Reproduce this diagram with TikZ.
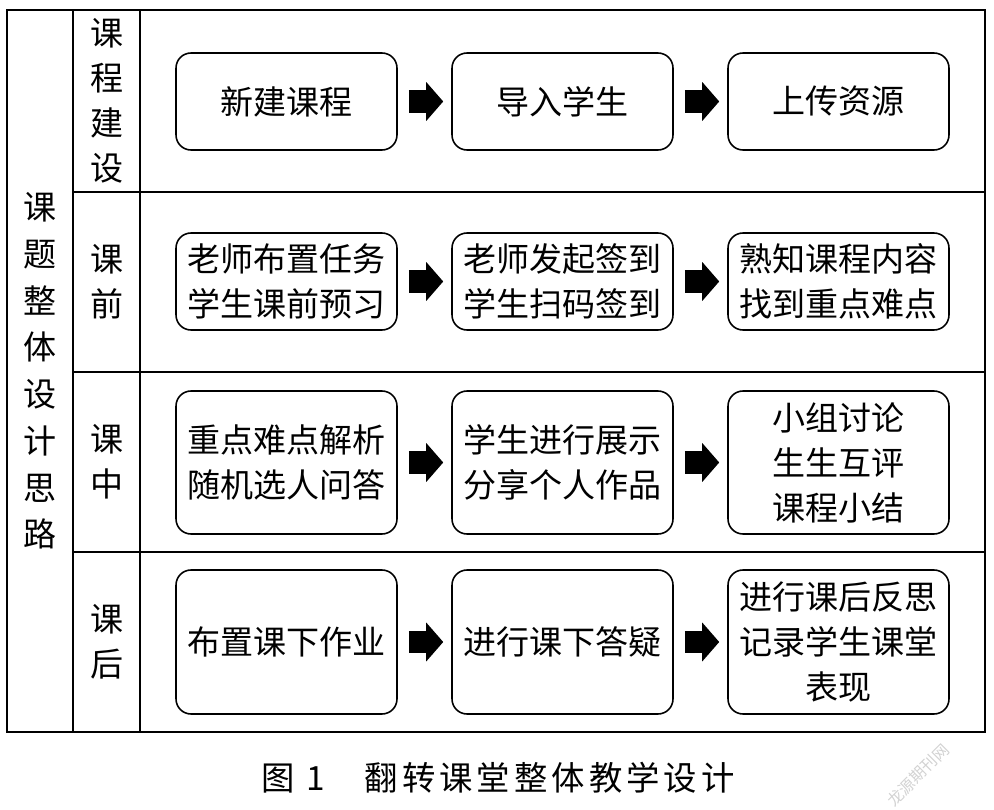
\documentclass[tikz,border=0pt]{standalone}
\usepackage{fontspec}
\setmainfont{Noto Sans CJK SC}
\newfontfamily\capfont[LetterSpace=12]{Noto Sans CJK SC}
\usetikzlibrary{arrows.meta}

\begin{document}
\begin{tikzpicture}[x=0.02cm,y=-0.02cm,
  every node/.style={font=\fontsize{18.8}{25.6}\selectfont},
  stepbox/.style={draw,rounded corners=0.3cm,line width=0.9pt,minimum width=4.42cm,align=center,inner sep=0pt},
  rowlabel/.style={align=center,inner sep=0pt},
  blockarrow/.style={line width=0.46cm,-{Triangle[length=0.34cm,width=0.76cm]},shorten <=0.22cm,shorten >=0.16cm}]
\useasboundingbox (0,0) rectangle (994,810);

% table
\draw[line width=1.2pt] (7,10) rectangle (985,732);
\draw[line width=1.2pt] (73,10) -- (73,732);
\draw[line width=1.2pt] (140,10) -- (140,732);
\draw[line width=1.2pt] (73,192) -- (985,192);
\draw[line width=1.2pt] (73,372) -- (985,372);
\draw[line width=1.2pt] (73,552) -- (985,552);

\node[rowlabel,font=\fontsize{18.8}{26.6}\selectfont] (t) at (40,371) {课\\题\\整\\体\\设\\计\\思\\路};
\node[rowlabel] (r1) at (107,101) {课\\程\\建\\设};
\node[rowlabel] (r2) at (107,282) {课\\前};
\node[rowlabel] (r3) at (107,462) {课\\中};
\node[rowlabel] (r4) at (107,642) {课\\后};

% steps
\node[stepbox,minimum height=1.94cm] (1) at (286.5,101.5) {新建课程};
\node[stepbox,minimum height=1.94cm] (2) at (562.5,101.5) {导入学生};
\node[stepbox,minimum height=1.94cm] (3) at (838.5,101.5) {上传资源};

\node[stepbox,minimum height=1.94cm] (4) at (286.5,281.5) {老师布置任务\\学生课前预习};
\node[stepbox,minimum height=1.94cm] (5) at (562.5,281.5) {老师发起签到\\学生扫码签到};
\node[stepbox,minimum height=1.94cm] (6) at (838.5,281.5) {熟知课程内容\\找到重点难点};

\node[stepbox,minimum height=2.86cm] (7) at (286.5,462.5) {重点难点解析\\随机选人问答};
\node[stepbox,minimum height=2.86cm] (8) at (562.5,462.5) {学生进行展示\\分享个人作品};
\node[stepbox,minimum height=2.86cm] (9) at (838.5,462.5) {小组讨论\\生生互评\\课程小结};

\node[stepbox,minimum height=2.88cm] (10) at (286.5,642) {布置课下作业};
\node[stepbox,minimum height=2.88cm] (11) at (562.5,642) {进行课下答疑};
\node[stepbox,minimum height=2.88cm] (12) at (838.5,642) {进行课后反思\\记录学生课堂\\表现};

\draw[blockarrow] (1) -- (2);
\draw[blockarrow] (2) -- (3);
\draw[blockarrow] (4) -- (5);
\draw[blockarrow] (5) -- (6);
\draw[blockarrow] (7) -- (8);
\draw[blockarrow] (8) -- (9);
\draw[blockarrow] (10) -- (11);
\draw[blockarrow] (11) -- (12);

% caption
\node[font=\capfont\fontsize{19}{19}\selectfont] (cap) at (498,778) {图 1\hspace{1.2em}翻转课堂整体教学设计};
\node[rotate=45,text=gray!35,font=\fontsize{9}{9}\selectfont] (wm) at (918,775) {龙源期刊网};
\end{tikzpicture}
\end{document}
